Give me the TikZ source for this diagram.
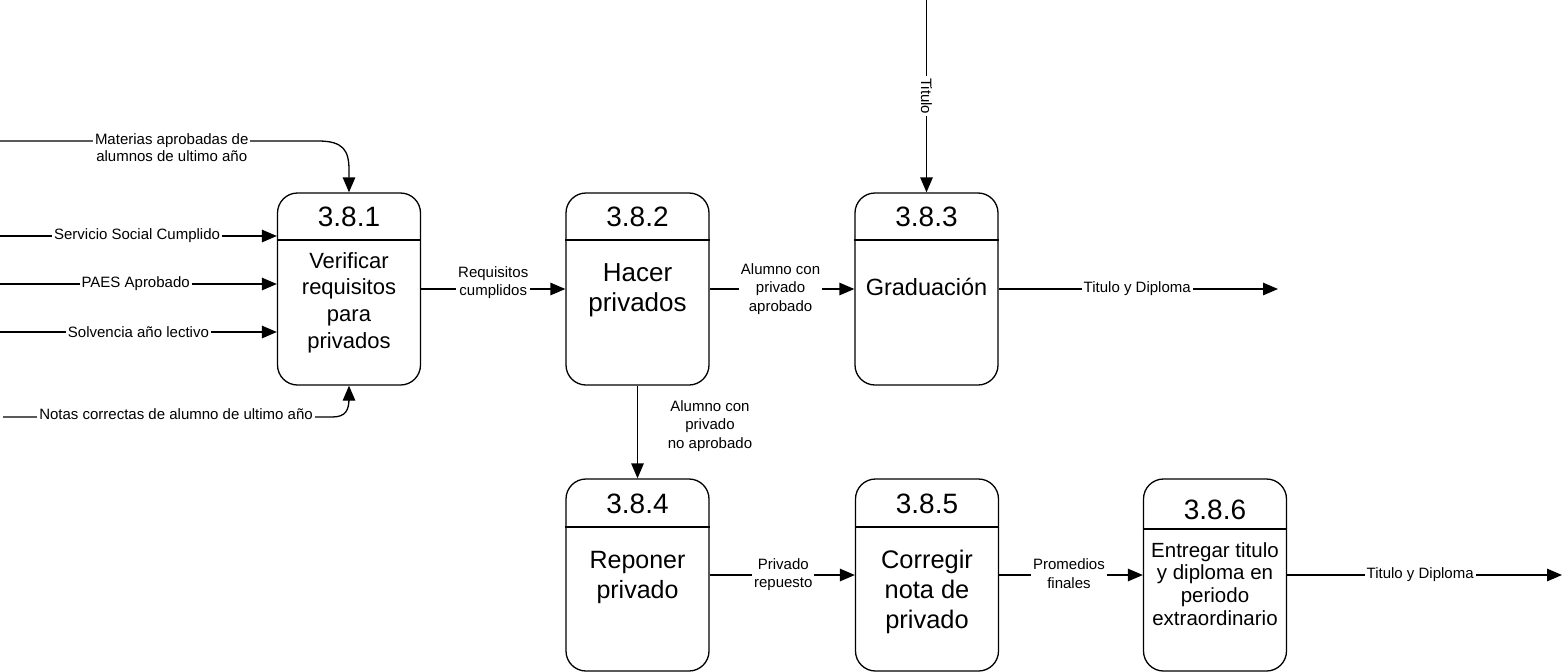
\documentclass[tikz,border=0pt]{standalone}
\usepackage{fontspec}
\setmainfont{Liberation Sans}
\usetikzlibrary{arrows.meta}

% centred stack of lines: [vertical alignment]{size}{baselineskip}{lines}
\newcommand{\txtlines}[4][c]{{\fontsize{#2}{#3}\selectfont\begin{tabular}[#1]{@{}c@{}}#4\end{tabular}}}

\tikzset{
  proc/.style={draw, line width=1.3pt, rounded corners=20pt,
               minimum width=143pt, minimum height=192pt, inner sep=0pt},
  divline/.style={line width=1.3pt},
  num/.style={font=\fontsize{28}{30}\selectfont, inner sep=0pt},
  body/.style={inner sep=0pt, anchor=base},
  flow/.style={line width=1.3pt, -{Triangle[length=15pt,width=12.5pt]}},
  lbl/.style={fill=white, inner sep=2pt, font=\fontsize{15}{18}\selectfont},
}

\begin{document}
\begin{tikzpicture}[x=1pt,y=-1pt]
\useasboundingbox (0,0) rectangle (1564,672);

% processes
\node[proc] (p1) at (349,289) {};
\node[proc] (p2) at (637.5,289) {};
\node[proc] (p3) at (926.5,289) {};
\node[proc] (p4) at (637.5,575) {};
\node[proc] (p5) at (927,575) {};
\node[proc] (p6) at (1215,575) {};

% header separators
\draw[divline] (p1.west |- 0,240) -- (p1.east |- 0,240);
\draw[divline] (p2.west |- 0,240) -- (p2.east |- 0,240);
\draw[divline] (p3.west |- 0,240) -- (p3.east |- 0,240);
\draw[divline] (p4.west |- 0,527) -- (p4.east |- 0,527);
\draw[divline] (p5.west |- 0,527) -- (p5.east |- 0,527);
\draw[divline] (p6.west |- 0,529) -- (p6.east |- 0,529);

% process numbers
\node[num] (n1) at (p1.center |- 0,217) {3.8.1};
\node[num] (n2) at (p2.center |- 0,217) {3.8.2};
\node[num] (n3) at (p3.center |- 0,217) {3.8.3};
\node[num] (n4) at (p4.center |- 0,504) {3.8.4};
\node[num] (n5) at (p5.center |- 0,504) {3.8.5};
\node[num] (n6) at (p6.center |- 0,510) {3.8.6};

% process names
\node[body] (b1) at (p1.center |- 0,268) {\txtlines[t]{22}{26.7}{Verificar\\requisitos\\para\\privados}};
\node[body] (b2) at (p2.center |- 0,281) {\txtlines[t]{26}{30}{Hacer\\privados}};
\node[body] (b3) at (p3.center |- 0,295) {\txtlines[t]{23.5}{27}{Graduación}};
\node[body] (b4) at (p4.center |- 0,568) {\txtlines[t]{25}{30}{Reponer\\privado}};
\node[body] (b5) at (p5.center |- 0,568) {\txtlines[t]{25.4}{30}{Corregir\\nota de\\privado}};
\node[body] (b6) at (p6.center |- 0,557) {\txtlines[t]{20.5}{22.7}{Entregar titulo\\y diploma en\\periodo\\extraordinario}};

% inputs of 3.8.1
\coordinate (s0) at (0,141);
\coordinate (s1) at (0,236);
\coordinate (s2) at (0,284);
\coordinate (s3) at (0,332);
\coordinate (s5) at (3,417);

\draw[flow] (s0) -- (318,141)
  node[lbl, pos=0.54, anchor=base, yshift=-3pt]
    {\txtlines[t]{15}{17.5}{Materias aprobadas de\\alumnos de ultimo año}}
  .. controls (343,141) and (349,150) .. (349,170) -- (p1.north);
\draw[flow] (s1) -- (s1 -| p1.west) node[lbl, pos=0.495] {Servicio Social Cumplido};
\draw[flow] (s2) -- (s2 -| p1.west) node[lbl, pos=0.49] {PAES Aprobado};
\draw[flow] (s3) -- (s3 -| p1.west) node[lbl, pos=0.5] {Solvencia año lectivo};
\draw[flow] (s5) -- (332,417)
  node[lbl, pos=0.526, yshift=3pt] {Notas correctas de alumno de ultimo año}
  .. controls (346,417) and (349,410) .. (349,398) -- (p1.south);

% flows between processes
\draw[flow] (p1.east) -- (p2.west)
  node[lbl, pos=0.5, anchor=base, yshift=-6pt] {\txtlines[b]{15}{18}{Requisitos\\cumplidos}};
\draw[flow] (p2.east) -- (p3.west)
  node[lbl, pos=0.49] {\txtlines{15}{18.5}{Alumno con\\privado\\aprobado}};
\draw[flow] (p2.south) -- (p4.north);
\node[lbl] (l8) at (710,426) {\txtlines{15}{18.5}{Alumno con\\privado\\no aprobado}};
\draw[flow] (p4.east) -- (p5.west)
  node[lbl, pos=0.507] {\txtlines{15}{18}{Privado\\repuesto}};
\draw[flow] (p5.east) -- (p6.west)
  node[lbl, pos=0.486] {\txtlines{15}{19}{Promedios\\finales}};

% title input and outputs
\coordinate (t0) at (926.5,0);
\draw[flow] (t0) -- (p3.north) node[lbl, pos=0.5, rotate=-90] {Titulo};
\coordinate (o1) at (1278,289);
\draw[flow] (p3.east) -- (o1) node[lbl, pos=0.496] {Titulo y Diploma};
\coordinate (o2) at (1562,575);
\draw[flow] (p6.east) -- (o2) node[lbl, pos=0.484] {Titulo y Diploma};
\end{tikzpicture}
\end{document}
